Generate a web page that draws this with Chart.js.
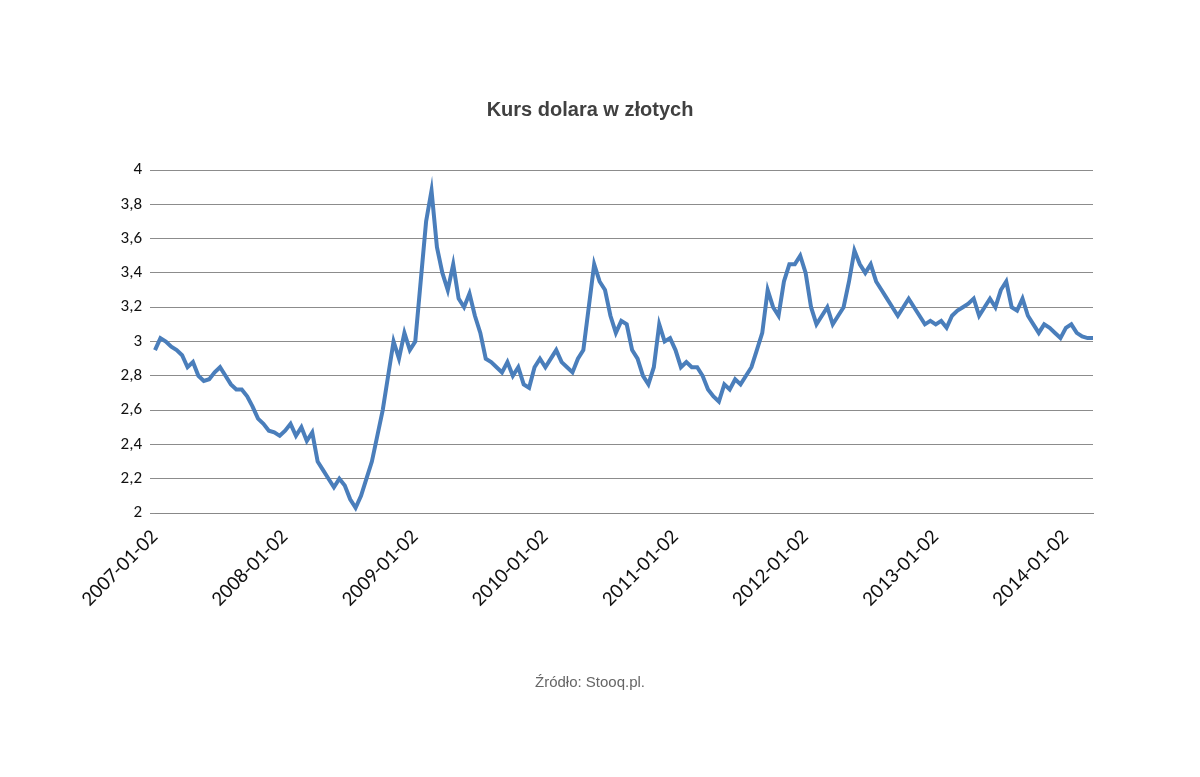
<!DOCTYPE html>
<html>
<head>
<meta charset="utf-8">
<script src="https://cdn.jsdelivr.net/npm/chart.js@4"></script>
<style>
  body { margin: 0; background: #fff; }
</style>
</head>
<body>
<canvas id="chart" width="1200" height="777"></canvas>
<script>
// two readings per month, Jan 2007 - Mar 2014
const rate2007 = [2.95, 3.02, 3.0, 2.97, 2.95, 2.92, 2.85, 2.88, 2.80, 2.77, 2.78, 2.82, 2.85, 2.80, 2.75, 2.72, 2.72, 2.68, 2.62, 2.55, 2.52, 2.48, 2.47, 2.45];
const rate2008 = [2.48, 2.52, 2.45, 2.50, 2.42, 2.47, 2.30, 2.25, 2.20, 2.15, 2.20, 2.16, 2.08, 2.03, 2.10, 2.20, 2.30, 2.45, 2.60, 2.80, 3.00, 2.90, 3.05, 2.95];
const rate2009 = [3.00, 3.35, 3.70, 3.88, 3.55, 3.40, 3.30, 3.45, 3.25, 3.20, 3.28, 3.15, 3.05, 2.90, 2.88, 2.85, 2.82, 2.88, 2.80, 2.85, 2.75, 2.73, 2.85, 2.90];
const rate2010 = [2.85, 2.90, 2.95, 2.88, 2.85, 2.82, 2.90, 2.95, 3.20, 3.45, 3.35, 3.30, 3.15, 3.05, 3.12, 3.10, 2.95, 2.90, 2.80, 2.75, 2.85, 3.10, 3.00, 3.02];
const rate2011 = [2.95, 2.85, 2.88, 2.85, 2.85, 2.80, 2.72, 2.68, 2.65, 2.75, 2.72, 2.78, 2.75, 2.80, 2.85, 2.95, 3.05, 3.30, 3.20, 3.15, 3.35, 3.45, 3.45, 3.50];
const rate2012 = [3.40, 3.20, 3.10, 3.15, 3.20, 3.10, 3.15, 3.20, 3.35, 3.53, 3.45, 3.40, 3.45, 3.35, 3.30, 3.25, 3.20, 3.15, 3.20, 3.25, 3.20, 3.15, 3.10, 3.12];
const rate2013 = [3.10, 3.12, 3.08, 3.15, 3.18, 3.20, 3.22, 3.25, 3.15, 3.20, 3.25, 3.20, 3.30, 3.35, 3.20, 3.18, 3.25, 3.15, 3.10, 3.05, 3.10, 3.08, 3.05, 3.02];
const rate2014 = [3.08, 3.10, 3.05, 3.03, 3.02, 3.02];
const rates = [].concat(rate2007, rate2008, rate2009, rate2010, rate2011, rate2012, rate2013, rate2014);

// dates: 2nd and 16th of each month
const dates = [];
for (let i = 0; i < rates.length; i++) {
    const m = Math.floor(i / 2);
    const y = 2007 + Math.floor(m / 12);
    const mm = String(m % 12 + 1).padStart(2, '0');
    dates.push(`${y}-${mm}-${i % 2 === 0 ? '02' : '16'}`);
}

const chartTitle = 'Kurs dolara w złotych';
const sourceNote = 'Źródło: Stooq.pl.';

// title and source drawn as text on the canvas
const textPlugin = {
    id: 'texts',
    afterDraw(chart) {
        const ctx = chart.ctx;
        ctx.save();
        ctx.textAlign = 'center';
        ctx.textBaseline = 'middle';
        ctx.fillStyle = '#404040';
        ctx.font = 'bold 20px "Liberation Sans", Arial, sans-serif';
        ctx.fillText(chartTitle, 590, 110);
        ctx.fillStyle = '#666';
        ctx.font = '15px "Liberation Sans", Arial, sans-serif';
        ctx.fillText(sourceNote, 590, 683);
        ctx.restore();
    }
};

new Chart(document.getElementById('chart'), {
    type: 'line',
    data: {
        labels: dates,
        datasets: [{
            data: rates,
            borderColor: '#4a7ebb',
            borderWidth: 4,
            pointRadius: 0,
            tension: 0
        }]
    },
    options: {
        responsive: false,
        animation: false,
        layout: { padding: { top: 170, right: 107, bottom: 144, left: 0 } },
        plugins: { legend: { display: false }, tooltip: { enabled: false } },
        scales: {
            x: {
                offset: false,
                afterFit: s => { s.height = 120; },
                grid: { display: false },
                border: { color: '#888' },
                ticks: {
                    autoSkip: false,
                    maxRotation: 45,
                    minRotation: 45,
                    color: '#111',
                    padding: 4,
                    font: { size: 21, family: 'Calibri, "Liberation Sans", Arial, sans-serif' },
                    callback(v) {
                        const d = this.getLabelForValue(v);
                        return d.endsWith('-01-02') ? d : null;
                    }
                }
            },
            y: {
                min: 2,
                max: 4,
                afterFit: s => { s.width = 155; },
                grid: { color: '#8c8c8c', tickLength: 5 },
                border: { display: false },
                ticks: {
                    stepSize: 0.2,
                    color: '#111',
                    padding: 8,
                    font: { size: 17, family: 'Calibri, "Liberation Sans", Arial, sans-serif' },
                    callback: v => String(Math.round(v * 10) / 10).replace('.', ',')
                }
            }
        }
    },
    plugins: [textPlugin]
});
</script>
</body>
</html>
